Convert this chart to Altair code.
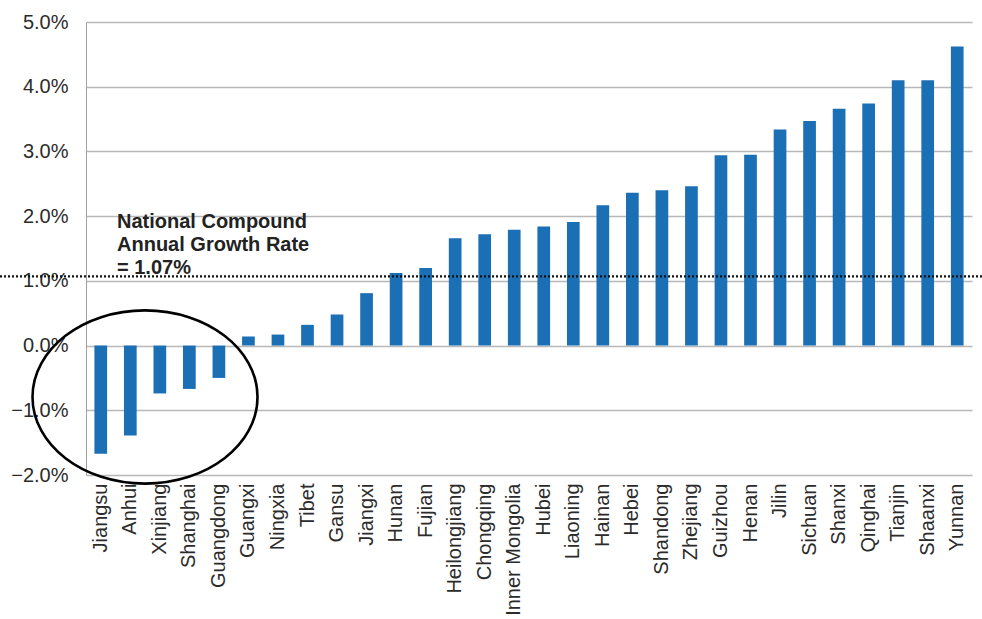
import altair as alt
import pandas as pd

provinces = ["Jiangsu", "Anhui", "Xinjiang", "Shanghai", "Guangdong", "Guangxi", "Ningxia",
             "Tibet", "Gansu", "Jiangxi", "Hunan", "Fujian", "Heilongjiang", "Chongqing",
             "Inner Mongolia", "Hubei", "Liaoning", "Hainan", "Hebei", "Shandong", "Zhejiang",
             "Guizhou", "Henan", "Jilin", "Sichuan", "Shanxi", "Qinghai", "Tianjin", "Shaanxi",
             "Yunnan"]
growth = [-1.67, -1.39, -0.74, -0.67, -0.50, 0.14, 0.17, 0.32, 0.48, 0.81, 1.12, 1.20, 1.66,
          1.72, 1.79, 1.84, 1.91, 2.17, 2.36, 2.40, 2.46, 2.94, 2.95, 3.34, 3.47, 3.66, 3.74,
          4.10, 4.10, 4.62]
y_ticks = [-2, -1, 0, 1, 2, 3, 4, 5]
national_rate = 1.07
note = "National Compound\nAnnual Growth Rate\n= 1.07%"

df = pd.DataFrame({"province": provinces, "growth": growth})
W, H = 886, 453
FONT = "Liberation Sans"

bars = alt.Chart(df).mark_bar(color="#1b6fb5").encode(
    x=alt.X("province:N", sort=provinces,
            scale=alt.Scale(paddingInner=0.57, paddingOuter=0.285),
            axis=alt.Axis(title=None, labelAngle=270, labelAlign="right", labelBaseline="middle",
                          labelPadding=8, labelFontSize=20, labelFont=FONT, labelColor="#2b2b2b",
                          domain=False, ticks=False, grid=False)),
    y=alt.Y("growth:Q", scale=alt.Scale(domain=[-2, 5], nice=False),
            axis=alt.Axis(title=None, values=y_ticks,
                          labelExpr="format(datum.value, '.1f') + '%'",
                          labelFontSize=20, labelFont=FONT, labelColor="#2b2b2b",
                          labelPadding=18, ticks=False, domain=True, domainColor="#a0a0a0",
                          gridColor="#b8b8b8", gridWidth=1.4)),
)

rule = alt.Chart(pd.DataFrame({"rate": [national_rate]})).mark_rule(
    color="#111111", strokeDash=[2, 2], strokeWidth=2.2
).encode(y="rate:Q", x=alt.value(-86), x2=alt.value(W + 10))

label = alt.Chart(pd.DataFrame({"t": [note]})).mark_text(
    align="left", baseline="top", font=FONT, fontSize=20, fontWeight="bold",
    color="#222222", lineBreak="\n", lineHeight=23
).encode(text="t:N", x=alt.value(31), y=alt.value(190))

ellipse = alt.Chart(pd.DataFrame({"k": [1]})).mark_point(
    shape="M -1 0 A 1 0.77 0 1 1 1 0 A 1 0.77 0 1 1 -1 0 Z",
    filled=False, stroke="black", strokeWidth=2.6, size=225 * 225, opacity=1
).encode(x=alt.value(59), y=alt.value(375))

chart = alt.layer(bars, rule, label, ellipse).properties(
    width=W, height=H,
    autosize=alt.AutoSizeParams(type="none"),
    padding={"left": 86, "top": 22, "right": 10, "bottom": 144},
    background="white",
).configure_view(stroke=None)

chart.save("out.html", embed_options={"renderer": "svg", "actions": False})
